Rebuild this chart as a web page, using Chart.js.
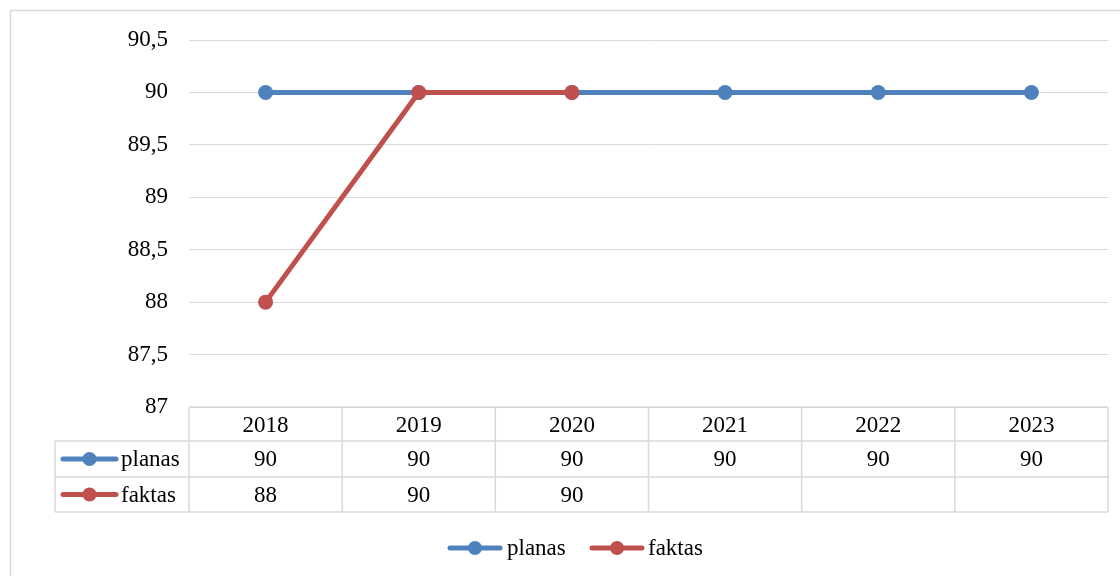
<!DOCTYPE html>
<html>
<head>
<meta charset="utf-8">
<script src="https://cdn.jsdelivr.net/npm/chart.js@4/dist/chart.umd.min.js"></script>
<style>
    html, body { margin: 0; padding: 0; background: #fff; overflow: hidden; }
    #wrap { width: 1120px; height: 576px; position: relative; }
</style>
</head>
<body>
<div id="wrap"><canvas id="lineChart" width="1120" height="576"></canvas></div>
<script>
// Duomenys
const years = ['2018', '2019', '2020', '2021', '2022', '2023'];
const planas = [90, 90, 90, 90, 90, 90];
const faktas = [88, 90, 90, null, null, null];
const seriesNames = ['planas', 'faktas'];
const seriesColors = ['#4F81BD', '#C0504D'];
const yTicks = { min: 87, max: 90.5, step: 0.5 };

const FONT = "23px 'Liberation Serif', 'Times New Roman', serif";
const GRID = '#d9d9d9';

function fmt(v) {
    if (v === null || v === undefined) return '';
    return v.toString().replace('.', ',');
}

// marker: linija su tašku (kaip Excel legendoje)
function drawKey(ctx, x1, x2, y, color) {
    ctx.save();
    ctx.strokeStyle = color;
    ctx.lineWidth = 5;
    ctx.lineCap = 'round';
    ctx.beginPath();
    ctx.moveTo(x1, y);
    ctx.lineTo(x2, y);
    ctx.stroke();
    ctx.fillStyle = color;
    ctx.beginPath();
    ctx.arc((x1 + x2) / 2, y, 7, 0, Math.PI * 2);
    ctx.fill();
    ctx.restore();
}

const frameAndTable = {
    id: 'frameAndTable',
    beforeDraw(chart) {
        const ctx = chart.ctx;
        ctx.save();
        ctx.strokeStyle = GRID;
        ctx.lineWidth = 1.5;
        ctx.strokeRect(10.5, 10.5, 1200, 700);
        ctx.restore();
    },
    afterDraw(chart) {
        const ctx = chart.ctx;
        const area = chart.chartArea;
        const xs = chart.scales.x;
        const colW = area.width / years.length;
        const rows = [area.bottom, area.bottom + 34, area.bottom + 70, area.bottom + 105];
        const leftCol = 55;

        ctx.save();
        ctx.strokeStyle = GRID;
        ctx.lineWidth = 1.5;
        ctx.beginPath();
        // horizontalios linijos
        ctx.moveTo(area.left, rows[0]); ctx.lineTo(area.right, rows[0]);
        for (let r = 1; r < rows.length; r++) {
            ctx.moveTo(leftCol, rows[r]); ctx.lineTo(area.right, rows[r]);
        }
        // vertikalios linijos
        ctx.moveTo(leftCol, rows[1]); ctx.lineTo(leftCol, rows[3]);
        for (let i = 0; i <= years.length; i++) {
            const x = area.left + i * colW;
            ctx.moveTo(x, rows[0]); ctx.lineTo(x, rows[3]);
        }
        ctx.stroke();

        ctx.fillStyle = '#000';
        ctx.font = FONT;
        ctx.textAlign = 'center';
        ctx.textBaseline = 'middle';
        const data = [planas, faktas];
        years.forEach((yr, i) => {
            const cx = xs.getPixelForValue(i);
            ctx.fillText(yr, cx, (rows[0] + rows[1]) / 2 + 2);
            ctx.fillText(fmt(data[0][i]), cx, (rows[1] + rows[2]) / 2 + 1);
            ctx.fillText(fmt(data[1][i]), cx, (rows[2] + rows[3]) / 2 + 1);
        });

        // eilučių pavadinimai
        ctx.textAlign = 'left';
        seriesNames.forEach((name, s) => {
            const cy = (rows[s + 1] + rows[s + 2]) / 2;
            drawKey(ctx, 63, 116, cy, seriesColors[s]);
            ctx.fillStyle = '#000';
            ctx.fillText(name, 121, cy + 1);
        });

        // apatinė legenda
        const ly = 548;
        drawKey(ctx, 450, 500, ly, seriesColors[0]);
        ctx.fillStyle = '#000';
        ctx.fillText(seriesNames[0], 507, ly + 1);
        drawKey(ctx, 592, 642, ly, seriesColors[1]);
        ctx.fillStyle = '#000';
        ctx.fillText(seriesNames[1], 648, ly + 1);
        ctx.restore();
    }
};

new Chart(document.getElementById('lineChart'), {
    type: 'line',
    data: {
        labels: years,
        datasets: [
            {
                label: seriesNames[0],
                data: planas,
                borderColor: seriesColors[0],
                backgroundColor: seriesColors[0],
                borderWidth: 5,
                pointRadius: 7.5,
                pointBorderWidth: 0,
                pointBackgroundColor: seriesColors[0],
                tension: 0,
                order: 1
            },
            {
                label: seriesNames[1],
                data: faktas,
                borderColor: seriesColors[1],
                backgroundColor: seriesColors[1],
                borderWidth: 5,
                pointRadius: 7.5,
                pointBorderWidth: 0,
                pointBackgroundColor: seriesColors[1],
                tension: 0,
                spanGaps: false,
                order: 0
            }
        ]
    },
    options: {
        responsive: false,
        animation: false,
        devicePixelRatio: 1,
        layout: {
            padding: { left: 0, right: 12, top: 40, bottom: 169 }
        },
        scales: {
            x: {
                display: false,
                offset: true
            },
            y: {
                min: yTicks.min,
                max: yTicks.max,
                afterFit(scale) { scale.width = 189; },
                border: { display: false },
                grid: {
                    color: GRID,
                    lineWidth: 1,
                    drawTicks: false
                },
                ticks: {
                    stepSize: yTicks.step,
                    padding: 21,
                    color: '#000',
                    font: { family: "'Liberation Serif', 'Times New Roman', serif", size: 23 },
                    callback: (v) => fmt(v)
                }
            }
        },
        plugins: {
            legend: { display: false },
            tooltip: { enabled: false }
        }
    },
    plugins: [frameAndTable]
});
</script>
</body>
</html>
